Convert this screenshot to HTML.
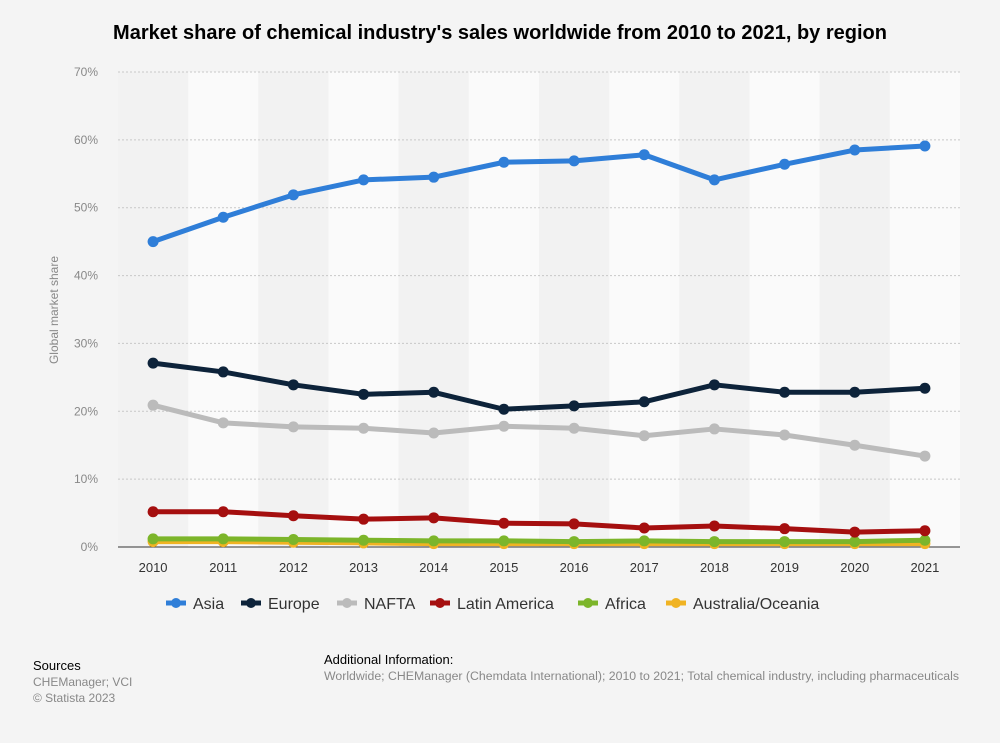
<!DOCTYPE html>
<html><head><meta charset="utf-8"><style>
body{margin:0;background:#f4f4f4;font-family:"Liberation Sans",sans-serif;}
#wrap{position:relative;width:1000px;height:743px;}
h1{position:absolute;top:22px;left:0;width:1000px;text-align:center;margin:0;font-size:20px;font-weight:bold;color:#000;}
.small{position:absolute;font-size:12px;color:#888;line-height:16px}
.hdr{color:#000;font-size:13px}
</style></head><body><div id="wrap">
<h1>Market share of chemical industry's sales worldwide from 2010 to 2021, by region</h1>
<svg id="chart" width="1000" height="743" style="position:absolute;left:0;top:0"></svg>
<div class="small" style="left:33px;top:658px"><span class="hdr">Sources</span><br>CHEManager; VCI<br>© Statista 2023</div>
<div class="small" style="left:324px;top:652px;font-size:12.3px"><span class="hdr">Additional Information:</span><br>Worldwide; CHEManager (Chemdata International); 2010 to 2021; Total chemical industry, including pharmaceuticals</div>
</div>
<script>
const categories=["2010","2011","2012","2013","2014","2015","2016","2017","2018","2019","2020","2021"];
const seriesNames=["Asia","Europe","NAFTA","Latin America","Africa","Australia/Oceania"];
const seriesColors=["#2f7ed8","#0d233a","#bbbbbb","#a50f0f","#7cb52a","#f0b323"];
const asia=[45.0,48.6,51.9,54.1,54.5,56.7,56.9,57.8,54.1,56.4,58.5,59.1];
const europe=[27.1,25.8,23.9,22.5,22.8,20.3,20.8,21.4,23.9,22.8,22.8,23.4];
const nafta=[20.9,18.3,17.7,17.5,16.8,17.8,17.5,16.4,17.4,16.5,15.0,13.4];
const latam=[5.2,5.2,4.6,4.1,4.3,3.5,3.4,2.8,3.1,2.7,2.2,2.4];
const africa=[1.2,1.2,1.1,1.0,0.9,0.9,0.8,0.9,0.8,0.8,0.8,1.0];
const oceania=[0.8,0.8,0.7,0.6,0.5,0.5,0.5,0.5,0.5,0.5,0.5,0.5];
const yTicks=[0,10,20,30,40,50,60,70];
const allSeries=[asia,europe,nafta,latam,africa,oceania];
const NS="http://www.w3.org/2000/svg";
const svg=document.getElementById('chart');
const L=118,R=960,T=72,B=547,yMax=70;
const bw=(R-L)/categories.length;
const x=i=>L+bw*(i+0.5);
const y=v=>B-(v/yMax)*(B-T);
function mk(t,a){const e=document.createElementNS(NS,t);for(const k in a)e.setAttribute(k,a[k]);svg.appendChild(e);return e;}
categories.forEach((c,i)=>{
 const r=mk('rect',{x:L+bw*i,y:T,width:bw,height:B-T,fill:i%2?'#fafafa':'#f2f2f2'});
 
 
 const t=mk('text',{x:x(i),y:572,'text-anchor':'middle','font-size':13,fill:'#333'});t.textContent=c;
 
 
});
yTicks.forEach(v=>{
 const g=mk('line',{x1:L,x2:R,y1:y(v),y2:y(v),stroke:v?'#c8c8c8':'#333','stroke-dasharray':v?'2,2':'none','stroke-width':1});
 
 
 const t=mk('text',{x:98,y:y(v)+4,'text-anchor':'end','font-size':12,fill:'#888'});t.textContent=v+'%';
 
 
});
const yt=mk('text',{x:58,y:310,'text-anchor':'middle','font-size':12,fill:'#888',transform:'rotate(-90 58 310)'});yt.textContent='Global market share';


for(let s=allSeries.length-1;s>=0;s--){
 const d=allSeries[s],col=seriesColors[s];
 const p=mk('polyline',{points:d.map((v,i)=>x(i)+','+y(v)).join(' '),fill:'none',stroke:col,'stroke-width':5,'stroke-linejoin':'round'});
 
 
 d.forEach((v,i)=>{const c=mk('circle',{cx:x(i),cy:y(v),r:5.5,fill:col});
  
  });
}
const legendX=[166,241,337,430,578,666];
seriesNames.forEach((n,i)=>{
 const lx=legendX[i];
 const l=mk('line',{x1:lx,x2:lx+20,y1:603,y2:603,stroke:seriesColors[i],'stroke-width':5});
 
 
 const c=mk('circle',{cx:lx+10,cy:603,r:5,fill:seriesColors[i]});
 
 
 const t=mk('text',{x:lx+27,y:609,'font-size':16,fill:'#333'});t.textContent=n;
 
 
});
</script></body></html>
